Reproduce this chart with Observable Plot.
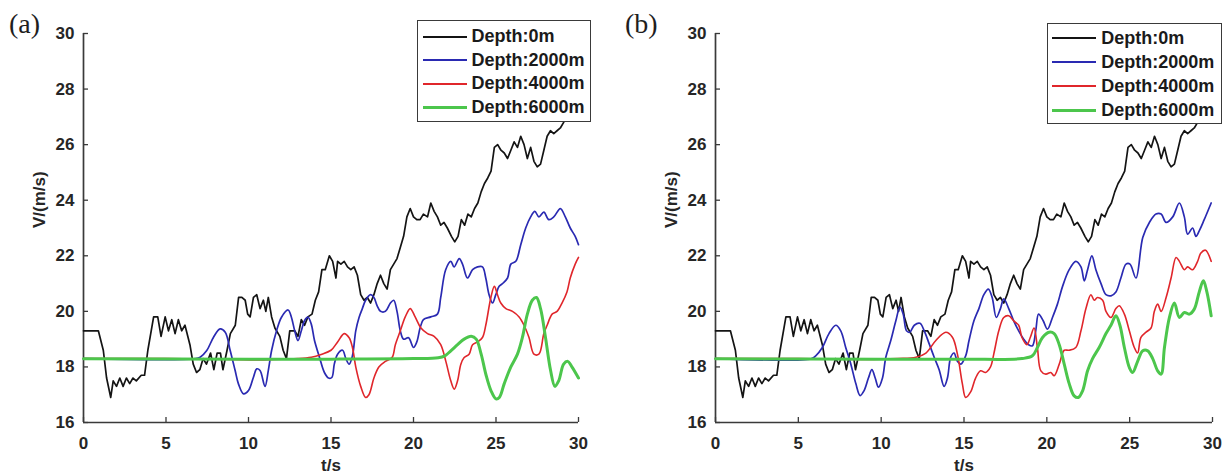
<!DOCTYPE html>
<html>
<head>
<meta charset="utf-8">
<script src="https://cdn.jsdelivr.net/npm/d3@7"></script>
<script src="https://cdn.jsdelivr.net/npm/@observablehq/plot@0.6"></script>
<style>
  body { margin: 0; background: #fff; }
  #wrap { position: relative; width: 1231px; height: 475px; overflow: hidden; background: #fff;
          font-family: "Liberation Sans", Arial, sans-serif; }
  .panel { position: absolute; top: 0; }
  .tag { position: absolute; font-family: "Liberation Serif", "Times New Roman", serif; font-size: 28px;
         line-height: 28px; color: #1e1e1e; }
  .legend { position: absolute; background: #fff; border: 1.5px solid #3a3a3a; box-sizing: border-box; z-index: 5; }
  .legend .row { position: absolute; height: 24px; display: flex; align-items: center; white-space: nowrap;
                 font-family: "Liberation Sans", Arial, sans-serif; font-weight: bold; font-size: 18px; color: #1a1a1a; }
  .legend .sw { display: inline-block; width: 44px; height: 0; margin-right: 5px; }
</style>
</head>
<body>
<div id="wrap"></div>
<script>
// ---------------- data ----------------
const xTicks = [0, 5, 10, 15, 20, 25, 30];
const yTicks = [16, 18, 20, 22, 24, 26, 28, 30];
const panelTags = ["(a)", "(b)"];
const seriesNames = ["Depth:0m", "Depth:2000m", "Depth:4000m", "Depth:6000m"];
const seriesColors = ["#141414", "#2a2ab2", "#e0262b", "#4cc64c"];
const seriesWidths = [1.7, 1.7, 1.6, 3];
const xLabel = "t/s";
const yLabel = "V/(m/s)";

// Depth 0 m (same in both panels)
const tBlack = [0,0.9,1.2,1.4,1.65,1.8,2.0,2.2,2.4,2.6,2.8,3.0,3.2,3.5,3.7,3.9,4.25,4.5,4.7,4.95,5.15,5.35,5.55,5.75,5.95,6.15,6.45,6.65,6.85,7.05,7.25,7.45,7.7,7.9,8.1,8.3,8.45,8.7,8.9,9.2,9.4,9.6,9.8,9.95,10.1,10.3,10.5,10.7,10.9,11.05,11.2,11.4,11.6,11.9,12.1,12.3,12.5,12.8,13.0,13.2,13.4,13.6,13.85,14.05,14.25,14.45,14.65,14.9,
  15.1,15.3,15.4,15.6,15.8,16.0,16.2,16.4,16.6,16.8,17.0,17.2,17.4,17.6,17.8,18.0,18.2,18.4,18.6,18.8,19.0,19.2,19.4,19.6,19.8,20.0,20.2,20.4,20.6,20.85,21.05,21.25,21.45,21.65,21.85,22.05,22.3,22.5,22.7,22.9,23.1,23.3,23.5,23.7,23.9,24.1,24.3,24.5,24.7,24.9,25.1,25.3,25.5,25.7,25.9,26.1,26.3,26.5,26.7,26.9,27.1,27.3,27.5,27.7,27.9,28.1,28.3,28.5,28.7,28.9,29.1,29.5,30];
const vBlack = [19.3,19.3,18.6,17.6,16.9,17.5,17.3,17.6,17.3,17.6,17.4,17.6,17.5,17.7,17.7,18.6,19.8,19.8,19.1,19.8,19.3,19.7,19.2,19.7,19.3,19.5,18.8,18.1,17.8,17.9,18.3,18.1,18.5,17.9,18.5,18.5,17.9,18.6,19.2,19.5,20.5,20.5,20.4,19.9,19.8,20.5,20.6,20.1,20.4,20.0,20.5,19.8,19.4,19.1,18.6,18.3,19.3,19.3,19.1,19.7,19.5,19.8,19.9,20.4,20.7,21.5,21.5,22.0,
  21.8,21.2,21.8,21.7,21.8,21.6,21.5,21.6,21.3,20.6,20.4,20.5,20.3,20.6,21.0,21.3,21.0,20.8,21.5,21.7,21.9,22.3,22.7,23.4,23.7,23.4,23.3,23.3,23.5,23.4,23.9,23.6,23.4,23.1,23.2,23.0,22.7,22.5,22.7,23.3,23.1,23.5,23.4,23.7,23.9,24.3,24.6,24.8,25.05,25.9,26.0,25.8,25.7,25.5,25.8,26.1,25.9,26.3,26.0,25.5,25.9,25.4,25.2,25.3,25.8,26.3,26.5,26.4,26.5,26.6,26.8,27.2,27.5];

// Panel (a)
const tBlueA = [0,6.8,7.07,7.47,7.88,8.28,8.59,8.89,9.19,9.39,9.70,10.0,10.3,10.5,10.7,11.0,11.2,11.4,11.7,12.0,12.4,12.6,12.8,13.0,13.2,13.4,13.6,13.8,14.0,14.3,14.6,14.85,15.05,15.2,15.4,15.7,15.9,16.1,16.3,16.5,16.7,16.9,17.1,17.4,17.6,17.8,18.0,18.3,18.6,18.8,19.0,19.2,19.4,19.7,20.0,20.2,20.4,20.6,21.05,21.45,21.65,21.95,22.26,22.46,22.77,22.97,23.27,23.58,23.88,24.18,24.38,24.58,24.79,24.99,25.19,25.39,25.7,25.9,26.2,26.5,26.8,27.1,27.35,27.6,27.9,28.2,28.5,28.9,29.2,29.5,29.8,30.0];
const vBlueA = [18.3,18.3,18.35,18.59,19.07,19.37,19.25,18.59,17.87,17.39,17.03,17.15,17.63,17.93,17.87,17.3,17.87,18.59,19.3,19.79,20.05,19.79,19.3,18.95,19.3,19.67,19.79,19.55,18.95,18.35,17.8,17.6,17.62,18.1,18.46,18.6,18.3,18.1,18.4,19.3,19.78,20.1,20.4,20.6,20.5,20.2,20.0,20.0,20.3,20.4,20.0,19.3,19.0,19.05,18.7,18.9,19.4,19.7,19.8,19.9,20.5,21.5,21.8,21.6,21.9,21.7,21.2,21.5,21.6,21.6,21.2,20.6,20.3,20.6,20.9,21.0,21.2,21.7,21.8,22.4,23.0,23.4,23.6,23.4,23.57,23.3,23.4,23.7,23.4,23.0,22.7,22.4];
const tRedA = [0,5,9,10.5,12,13,13.8,14.4,15.0,15.4,15.8,16.1,16.3,16.5,16.8,17.1,17.3,17.6,17.9,18.3,18.7,18.9,19.2,19.5,19.8,20.1,20.45,20.85,21.25,21.65,21.96,22.26,22.47,22.67,22.87,23.07,23.37,23.58,23.88,24.18,24.38,24.69,24.9,25.09,25.29,25.6,26.0,26.4,26.7,27.0,27.3,27.6,27.9,28.1,28.4,28.7,29.0,29.3,29.5,29.8,30.0];
const vRedA = [18.3,18.3,18.27,18.25,18.28,18.3,18.35,18.45,18.6,18.9,19.2,19.05,18.7,18.0,17.3,16.9,17.0,17.6,18.0,18.2,18.34,18.8,19.3,19.8,20.1,19.8,19.4,19.2,19.1,18.8,18.2,17.5,17.2,17.5,18.1,18.34,18.46,18.8,18.9,19.06,19.5,20.5,20.9,20.6,20.3,20.1,20.0,19.8,19.5,19.06,18.46,18.46,19.2,19.5,19.9,20.0,20.3,20.7,21.2,21.7,21.94];
const tGreenA = [0,10,15,20,21.5,21.9,22.26,22.67,23.07,23.5,23.8,24.1,24.4,24.7,25.0,25.2,25.5,25.9,26.3,26.6,26.9,27.2,27.45,27.7,28.0,28.3,28.57,28.8,29.1,29.35,29.6,30.0];
const vGreenA = [18.29,18.28,18.28,18.3,18.33,18.4,18.58,18.8,19.0,19.1,19.0,18.46,17.7,17.14,16.85,16.9,17.4,18.0,18.46,19.06,19.9,20.4,20.5,20.1,19.06,17.9,17.3,17.5,18.1,18.2,18.0,17.6];

// Panel (b)
const tBlueB = [0,5.8,6.05,6.45,6.85,7.26,7.56,7.86,8.17,8.47,8.73,8.97,9.23,9.44,9.64,9.84,10.08,10.28,10.58,10.89,11.13,11.33,11.53,11.73,12.0,12.34,12.6,12.9,13.2,13.5,13.8,14.0,14.2,14.4,14.6,14.8,15.1,15.3,15.6,15.9,16.2,16.47,16.7,16.95,17.2,17.4,17.7,18.0,18.3,18.6,18.9,19.13,19.33,19.5,19.78,20.04,20.34,20.64,20.95,21.35,21.75,22.06,22.26,22.46,22.72,22.96,23.27,23.57,23.87,24.17,24.47,24.78,25.02,25.38,25.79,26.19,26.59,26.9,27.2,27.6,28.0,28.3,28.5,28.8,29.0,29.2,29.5,29.92];
const vBlueB = [18.3,18.3,18.4,18.7,19.2,19.5,19.3,18.7,18.1,17.4,16.97,17.15,17.6,17.9,17.6,17.27,17.6,18.35,18.95,19.67,20.15,19.9,19.3,19.25,19.5,19.57,19.3,18.83,18.35,17.9,17.3,17.6,18.35,18.5,18.2,18.1,18.4,18.94,19.66,20.1,20.6,20.8,20.5,19.78,20.1,20.45,20.1,19.66,19.3,19.0,18.8,18.76,19.3,19.9,19.66,19.36,19.78,20.26,20.9,21.5,21.8,21.6,21.1,21.5,22.0,21.5,21.0,20.6,20.56,20.7,21.2,21.7,21.7,21.2,22.66,23.2,23.5,23.5,23.2,23.4,23.9,23.4,22.78,23.0,22.7,22.9,23.3,23.9];
const tRedB = [0,5,9,11,12.1,12.7,13.3,13.9,14.3,14.6,14.9,15.1,15.4,15.7,16.0,16.3,16.6,16.8,17.1,17.4,17.7,18.0,18.3,18.5,18.8,19.0,19.23,19.43,19.64,19.94,20.24,20.44,20.75,21.05,21.35,21.75,22.06,22.36,22.66,22.86,23.06,23.37,23.57,23.87,24.17,24.37,24.68,24.98,25.28,25.48,25.68,25.99,26.29,26.49,26.69,26.9,27.2,27.5,27.8,28.0,28.3,28.5,28.8,29.1,29.3,29.58,29.92];
const vRedB = [18.3,18.3,18.27,18.3,18.35,18.5,18.95,19.25,19.07,18.47,17.4,16.9,17.1,17.6,17.86,17.8,18.0,18.47,19.3,19.78,19.84,19.66,19.5,19.06,18.8,19.06,19.4,18.7,17.86,17.74,17.8,17.68,18.1,18.6,18.6,18.7,19.3,20.1,20.6,20.4,20.5,20.4,20.0,19.78,20.1,20.2,19.9,19.3,18.7,18.5,19.06,19.25,19.4,20.0,20.26,20.0,20.5,21.2,21.94,21.8,21.5,21.6,21.5,21.8,22.1,22.2,21.8];
const tGreenB = [0,10,15,18.5,19.13,19.43,19.74,20.14,20.44,20.75,21.05,21.35,21.65,21.9,22.16,22.46,22.76,23.16,23.57,23.87,24.17,24.41,24.68,24.98,25.18,25.48,25.79,26.09,26.39,26.69,26.9,27.1,27.4,27.7,28.0,28.3,28.6,28.9,29.2,29.45,29.66,29.92];
const vGreenB = [18.29,18.28,18.28,18.3,18.4,18.7,19.06,19.25,19.2,18.8,18.1,17.4,16.96,16.9,17.14,17.86,18.3,18.7,19.2,19.5,19.84,19.5,18.7,17.98,17.8,18.2,18.58,18.58,18.3,17.86,17.74,18.7,19.78,20.3,19.78,19.96,19.9,20.08,20.7,21.1,20.7,19.84];

// ---------------- build ----------------
const toRows = (ts, vs) => ts.map((t, i) => ({t, v: vs[i]}));
const panelsData = [
  [toRows(tBlack, vBlack), toRows(tBlueA, vBlueA), toRows(tRedA, vRedA), toRows(tGreenA, vGreenA)],
  [toRows(tBlack, vBlack), toRows(tBlueB, vBlueB), toRows(tRedB, vRedB), toRows(tGreenB, vGreenB)]
];

const axisColor = "#3a3a3a";
const H = 475, MT = 33, MB = 53, ML = 83;

function makePanel(series, W, MR) {
  const innerW = W - ML - MR, innerH = H - MT - MB;
  const marks = [
    Plot.axisX({ticks: xTicks, tickSize: 0, tickPadding: 14, label: null, tickFormat: d => String(d)}),
    Plot.axisY({ticks: yTicks, tickSize: 0, tickPadding: 9, label: null, tickFormat: d => String(d)}),
    Plot.tickX(xTicks, {x: d => d, insetTop: innerH - 5, stroke: axisColor, strokeWidth: 1.3}),
    Plot.tickY(yTicks, {y: d => d, insetRight: innerW - 5, stroke: axisColor, strokeWidth: 1.3}),
    Plot.ruleX([0], {stroke: axisColor, strokeWidth: 1.7}),
    Plot.ruleY([16], {stroke: axisColor, strokeWidth: 1.7})
  ];
  series.forEach((rows, i) => {
    marks.push(Plot.line(rows, {
      x: "t", y: "v", stroke: seriesColors[i], strokeWidth: seriesWidths[i],
      curve: i === 0 ? "linear" : "catmull-rom", strokeLinejoin: "round"
    }));
  });
  marks.push(Plot.text([xLabel], {frameAnchor: "bottom", dy: 48, fontSize: 17, fontWeight: "bold", fill: "#262626"}));
  marks.push(Plot.text([yLabel], {frameAnchor: "left", dx: -44, rotate: -90, fontSize: 17, fontWeight: "bold", fill: "#262626"}));
  return Plot.plot({
    width: W, height: H, marginLeft: ML, marginRight: MR, marginTop: MT, marginBottom: MB,
    x: {domain: [0, 30]},
    y: {domain: [16, 30]},
    style: {fontFamily: "'Liberation Sans', Arial, sans-serif", fontSize: "17px", fontWeight: "bold",
            color: "#262626", background: "transparent", overflow: "visible"},
    marks
  });
}

const wrap = document.getElementById("wrap");
const layouts = [
  {left: 0, W: 610, MR: 32, tagLeft: 9, leg: {left: 417, top: 20, width: 174, height: 102, row0: 15.5, step: 23.7, lineLeft: 4.5}},
  {left: 632, W: 599, MR: 19, tagLeft: 625, leg: {left: 1047, top: 23, width: 175, height: 101, row0: 14, step: 24.1, lineLeft: 4.2}}
];

layouts.forEach((L, p) => {
  const div = document.createElement("div");
  div.className = "panel";
  div.style.left = L.left + "px";
  div.appendChild(makePanel(panelsData[p], L.W, L.MR));
  wrap.appendChild(div);

  const tag = document.createElement("div");
  tag.className = "tag";
  tag.style.left = L.tagLeft + "px";
  tag.style.top = "10px";
  tag.textContent = panelTags[p];
  wrap.appendChild(tag);

  const leg = document.createElement("div");
  leg.className = "legend";
  Object.assign(leg.style, {left: L.leg.left + "px", top: L.leg.top + "px", width: L.leg.width + "px", height: L.leg.height + "px"});
  seriesNames.forEach((name, i) => {
    const row = document.createElement("div");
    row.className = "row";
    row.style.left = L.leg.lineLeft + "px";
    row.style.top = (L.leg.row0 + i * L.leg.step - 12) + "px";
    const sw = document.createElement("span");
    sw.className = "sw";
    sw.style.borderTop = `${i === 3 ? 3 : 2}px solid ${seriesColors[i]}`;
    const tx = document.createElement("span");
    tx.textContent = name;
    row.appendChild(sw);
    row.appendChild(tx);
    leg.appendChild(row);
  });
  wrap.appendChild(leg);
});
</script>
</body>
</html>
